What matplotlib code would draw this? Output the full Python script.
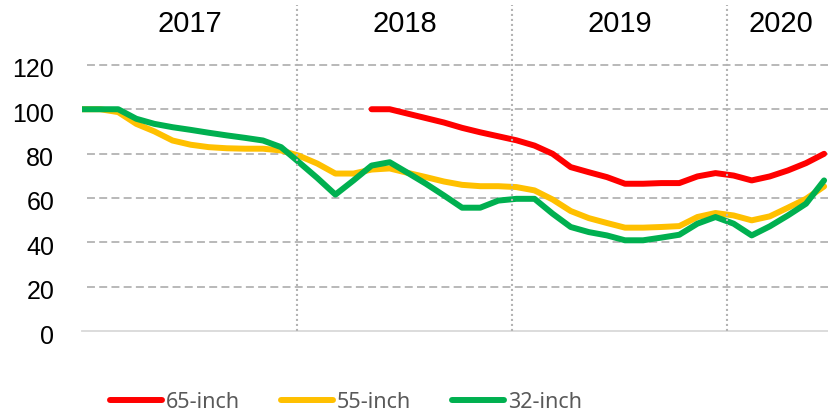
import numpy as np
import matplotlib.pyplot as plt
from matplotlib import transforms

# monthly price index, Jan 2017 .. Jun 2020
inch65 = [np.nan] * 16 + [100, 100, 98, 96, 94, 91.6, 89.6, 87.8, 86, 83.6,
                          79.9, 73.9, 71.6, 69.4, 66.4, 66.4, 66.7, 66.7, 69.7, 71.2,
                          70.1, 67.9, 69.7, 72.4, 75.7, 79.9]
inch55 = [100, 100, 98.7, 93.4, 90, 85.9, 84, 82.9, 82.4, 82.2, 82.2, 81.4,
          79, 75.5, 71, 71, 72.8, 73.3, 71.3, 69.4, 67.4, 65.9, 65.3, 65.3,
          64.9, 63.4, 59.3, 54.1, 50.9, 48.7, 46.6, 46.6, 46.9, 47.3, 51.4, 53.2,
          52.1, 49.9, 51.7, 55.6, 59.6, 65.2]
inch32 = [100, 100, 100, 95.7, 93.4, 91.9, 90.7, 89.4, 88.2, 87.1, 85.9, 82.9,
          76, 69, 61.5, 67.9, 74.6, 76.1, 71.3, 66.4, 61.1, 55.6, 55.6, 58.8,
          59.6, 59.6, 52.9, 46.9, 44.6, 43.1, 40.9, 40.9, 42.1, 43.4, 48.4, 51.4,
          48.4, 43.1, 47.2, 52.1, 57.4, 67.9]
labels = ['65-inch', '55-inch', '32-inch']
colors = ['#FF0000', '#FFC000', '#00B050']
years = ['2017', '2018', '2019', '2020']
months_in_year = [12, 12, 12, 6]
yticks = [0, 20, 40, 60, 80, 100, 120]

fig = plt.figure(figsize=(8.29, 4.11), dpi=100)
ax = fig.add_axes([82 / 829, 80 / 411, 747 / 829, 326 / 411])
x = np.arange(len(inch55))

handles = []
for vals, lab, c in zip([inch65, inch55, inch32], labels, colors):
    h, = ax.plot(x, vals, color=c, lw=4.3, label=lab,
                 solid_capstyle='round', solid_joinstyle='round', zorder=3)
    handles.append(h)

ax.set_xlim(0, 747 / 18.1)
ax.set_ylim(0, 147)

for y in yticks[1:]:
    ax.axhline(y, xmin=5 / 747, color='#A6A6A6', lw=1.1,
               ls=(0, (5.2, 2.8)), zorder=1)

for s in ['top', 'right', 'left']:
    ax.spines[s].set_visible(False)
ax.spines['bottom'].set_color('#D9D9D9')
ax.spines['bottom'].set_linewidth(1.3)
ax.set_xticks([])
ax.set_yticks(yticks)
ax.tick_params(axis='y', length=0, pad=20, labelsize=18)
for t in ax.get_yticklabels():
    t.set_fontfamily('Liberation Sans')
    t.set_transform(t.get_transform() +
                    transforms.ScaledTranslation(0, -3 / 100, fig.dpi_scale_trans))

# year bands on a month scale
top = ax.twiny()
top.set_xlim(0, 747 / 17.92)
top.axis('off')
bounds = np.cumsum([0] + months_in_year)
for b in bounds[1:-1]:
    top.axvline(b, color='#B4B4B4', lw=1.5, ls=(0, (1, 1.4)), zorder=0)
for yr, a, b in zip(years, bounds[:-1], bounds[1:]):
    top.text((a + b) / 2, 0.9417, yr, transform=top.get_xaxis_transform(),
             ha='center', va='center', fontsize=21, family='Liberation Sans')

fig.legend(handles=handles, loc='center left',
           bbox_to_anchor=(110 / 829, 1 - 402 / 411), ncol=3, frameon=False,
           prop={'family': 'Noto Sans', 'size': 15.5}, labelcolor='#595959',
           handlelength=2.4, handletextpad=0.2, columnspacing=1.9,
           borderpad=0, borderaxespad=0)

fig.savefig('out.png', dpi=100)
